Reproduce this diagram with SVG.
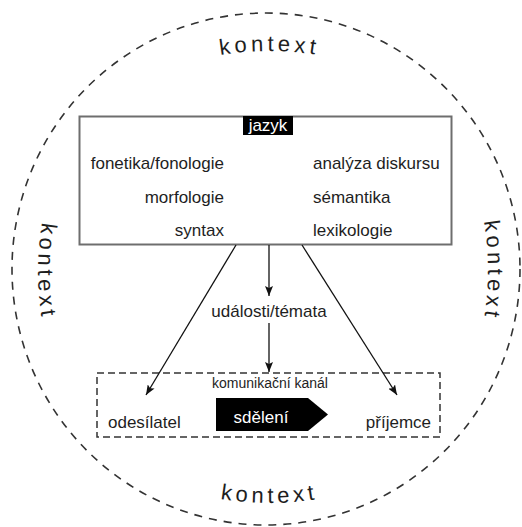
<svg xmlns="http://www.w3.org/2000/svg" width="522" height="527" viewBox="0 0 522 527">
<style>
text{font-family:"Liberation Sans",Arial,sans-serif;fill:#1e1e1e}
.t{font-size:17px}
.k{font-size:22px;letter-spacing:4px}
.w{fill:#fff}
.conn{stroke:#111;stroke-width:1.3;fill:none;marker-end:url(#ah)}
</style>
<defs>
<marker id="ah" viewBox="0 0 10 8" refX="10" refY="4" markerWidth="10" markerHeight="8" markerUnits="userSpaceOnUse" orient="auto">
<path d="M0,0 L10,4 L0,8 L2,4 z" fill="#111"/>
</marker>
<path id="pTop" d="M 119.5 91.2 A 300 300 0 0 1 419.5 91.2"/>
<path id="pBot" d="M 119.5 462.8 A 300 300 0 0 0 419.5 462.8"/>
<path id="pLeft" d="M 78.2 121.5 A 300 300 0 0 0 78.2 421.5"/>
<path id="pRight" d="M 447.8 120.5 A 300 300 0 0 1 447.8 420.5"/>
</defs>
<rect width="522" height="527" fill="#fff"/>
<g id="kontext">
<ellipse cx="266" cy="269" rx="254" ry="256" fill="none" stroke="#333" stroke-width="1.6" stroke-dasharray="8 7"/>
<text class="k"><textPath href="#pTop" startOffset="50%" text-anchor="middle">kontext</textPath></text>
<text class="k"><textPath href="#pBot" startOffset="50%" text-anchor="middle">kontext</textPath></text>
<text class="k"><textPath href="#pLeft" startOffset="50%" text-anchor="middle">kontext</textPath></text>
<text class="k"><textPath href="#pRight" startOffset="50%" text-anchor="middle">kontext</textPath></text>
</g>
<g id="jazyk">
<rect x="79.5" y="116.5" width="372" height="128" fill="#fff" stroke="#6e6e6e" stroke-width="2"/>
<rect x="243" y="116" width="50" height="19" fill="#000"/>
<text class="t w" x="268" y="131" text-anchor="middle">jazyk</text>
<text class="t" x="224" y="169" text-anchor="end">fonetika/fonologie</text>
<text class="t" x="224" y="203" text-anchor="end">morfologie</text>
<text class="t" x="224" y="236" text-anchor="end">syntax</text>
<text class="t" x="313" y="169">analýza diskursu</text>
<text class="t" x="313" y="203">sémantika</text>
<text class="t" x="313" y="236">lexikologie</text>
</g>
<g id="udalosti">
<text class="t" x="269" y="317" text-anchor="middle">události/témata</text>
</g>
<g id="kanal">
<rect x="97" y="373" width="343" height="64" fill="none" stroke="#333" stroke-width="1.5" stroke-dasharray="7 4"/>
<text x="270" y="388" text-anchor="middle" font-size="14">komunikační kanál</text>
</g>
<g id="odesilatel">
<text class="t" x="108" y="428">odesílatel</text>
</g>
<g id="sdeleni">
<path d="M216,398 L308,398 L328,414.5 L308,431 L216,431 z" fill="#000"/>
<text class="t w" x="261" y="423" text-anchor="middle">sdělení</text>
</g>
<g id="prijemce">
<text class="t" x="431" y="428" text-anchor="end">příjemce</text>
</g>
<g id="connectors">
<line class="conn" x1="269" y1="245" x2="269" y2="296"/>
<line class="conn" x1="269" y1="323" x2="269" y2="372"/>
<line class="conn" x1="236" y1="245" x2="146" y2="395"/>
<line class="conn" x1="302" y1="245" x2="397" y2="395"/>
</g>
</svg>
